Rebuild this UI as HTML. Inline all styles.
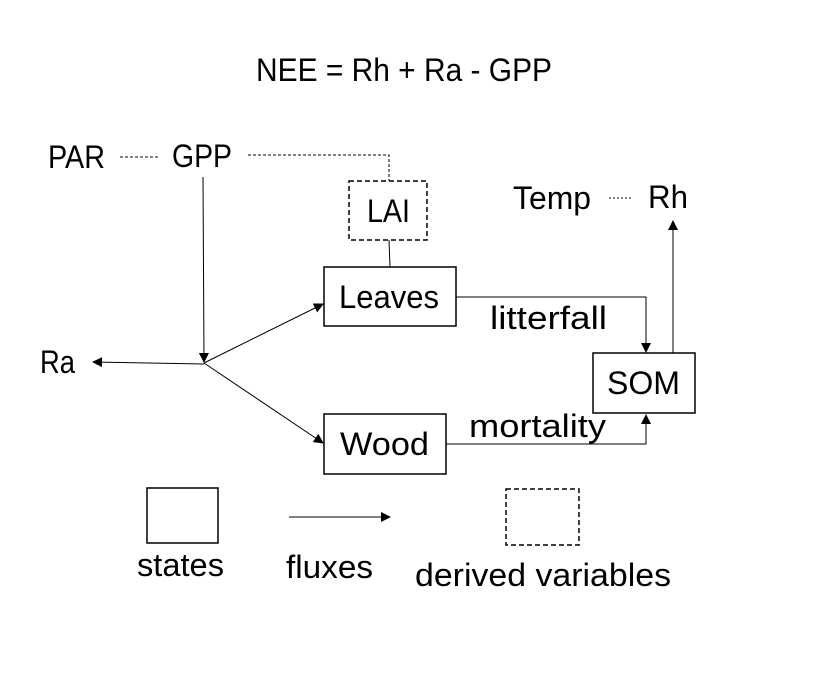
<!DOCTYPE html>
<html><head><meta charset="utf-8"><style>
html,body{margin:0;padding:0;background:#fff;}
svg{display:block;}
text{font-family:"Liberation Sans",sans-serif;font-size:32px;fill:#000;}
</style></head><body>
<svg width="820" height="674" viewBox="0 0 820 674" xmlns="http://www.w3.org/2000/svg">
<defs>
<marker id="a" markerWidth="10" markerHeight="10" refX="9" refY="5" orient="auto" markerUnits="userSpaceOnUse">
<path d="M0,0 L10,5 L0,10 z" fill="#000"/></marker>
</defs>
<text x="256" y="81" textLength="296" lengthAdjust="spacingAndGlyphs">NEE = Rh + Ra - GPP</text>
<text x="48" y="168" textLength="57" lengthAdjust="spacingAndGlyphs">PAR</text>
<text x="172" y="167" textLength="60" lengthAdjust="spacingAndGlyphs">GPP</text>
<line x1="120" y1="157" x2="160" y2="157" stroke="#000" stroke-width="1" stroke-dasharray="3,2"/>
<polyline points="248,155 389,155 389,181" fill="none" stroke="#000" stroke-width="1" stroke-dasharray="3,2"/>
<rect x="349" y="181" width="78" height="59" fill="none" stroke="#000" stroke-width="1.5" stroke-dasharray="5,3"/>
<text x="367" y="222" textLength="43" lengthAdjust="spacingAndGlyphs">LAI</text>
<line x1="389" y1="240" x2="390" y2="267" stroke="#000" stroke-width="1"/>
<rect x="324" y="267" width="132" height="59" fill="none" stroke="#000" stroke-width="1.5"/>
<text x="339" y="308" textLength="100" lengthAdjust="spacingAndGlyphs">Leaves</text>
<text x="513" y="209" textLength="78" lengthAdjust="spacingAndGlyphs">Temp</text>
<line x1="609" y1="198" x2="632" y2="198" stroke="#000" stroke-width="1" stroke-dasharray="2,2"/>
<text x="648" y="208" textLength="40" lengthAdjust="spacingAndGlyphs">Rh</text>
<text x="40" y="373" textLength="35" lengthAdjust="spacingAndGlyphs">Ra</text>
<line x1="203" y1="177" x2="204" y2="362" stroke="#000" stroke-width="1" marker-end="url(#a)"/>
<line x1="204" y1="364" x2="93" y2="362" stroke="#000" stroke-width="1" marker-end="url(#a)"/>
<line x1="204" y1="363" x2="323" y2="304" stroke="#000" stroke-width="1" marker-end="url(#a)"/>
<line x1="204" y1="363" x2="323" y2="443" stroke="#000" stroke-width="1" marker-end="url(#a)"/>
<polyline points="456,297 646,297 646,352" fill="none" stroke="#000" stroke-width="1" marker-end="url(#a)"/>
<text x="490" y="329" textLength="117" lengthAdjust="spacingAndGlyphs">litterfall</text>
<rect x="593" y="353" width="102" height="60" fill="none" stroke="#000" stroke-width="1.5"/>
<text x="607" y="394" textLength="73" lengthAdjust="spacingAndGlyphs">SOM</text>
<line x1="673" y1="353" x2="673" y2="221" stroke="#000" stroke-width="1" marker-end="url(#a)"/>
<rect x="324" y="414" width="122" height="60" fill="none" stroke="#000" stroke-width="1.5"/>
<text x="340" y="455" textLength="89" lengthAdjust="spacingAndGlyphs">Wood</text>
<polyline points="446,444 646,444 646,415" fill="none" stroke="#000" stroke-width="1" marker-end="url(#a)"/>
<text x="469" y="437" textLength="137" lengthAdjust="spacingAndGlyphs">mortality</text>
<rect x="147" y="488" width="71" height="55" fill="none" stroke="#000" stroke-width="1.5"/>
<line x1="289" y1="517" x2="390" y2="517" stroke="#000" stroke-width="1" marker-end="url(#a)"/>
<rect x="506" y="489" width="73" height="56" fill="none" stroke="#000" stroke-width="1.5" stroke-dasharray="5,3"/>
<text x="137" y="576" textLength="87" lengthAdjust="spacingAndGlyphs">states</text>
<text x="286" y="578" textLength="87" lengthAdjust="spacingAndGlyphs">fluxes</text>
<text x="415" y="586" textLength="256" lengthAdjust="spacingAndGlyphs">derived variables</text>
</svg>
</body></html>
